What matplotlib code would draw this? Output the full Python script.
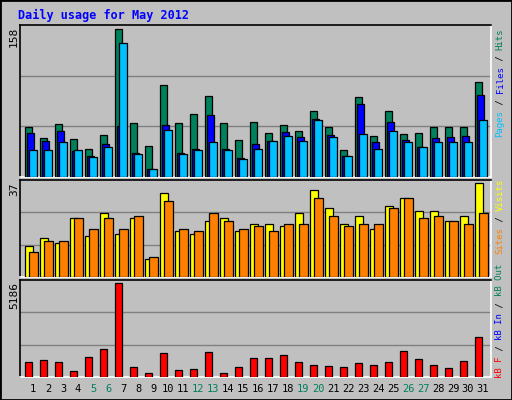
import matplotlib
matplotlib.use("Agg")
import matplotlib.pyplot as plt
from matplotlib.patches import Rectangle
import numpy as np

days = list(range(1, 32))
hits = [54,42,57,41,30,45,158,58,33,99,58,67,87,58,40,59,47,56,49,71,54,29,86,44,71,46,47,53,54,54,102]
files = [47,39,49,28,23,35,55,26,9,56,26,30,66,30,20,35,39,48,43,62,45,23,78,37,59,40,32,42,43,44,88]
pages = [29,29,37,29,21,32,143,25,9,50,25,29,38,29,19,30,39,44,39,61,43,23,46,30,49,37,32,37,37,37,61]
visits = [12,15.3,13.3,23.3,16,25,17,23,7,33,18,17,22,23,18,21,21,20,25,34,27,21,24,19,28,31,26,26,22,24,37]
sites = [10,14,14,23,19,23,19,24,8,30,19,18,25,22,19,20,18,21,21,31,24,20,21,21,27,31,23,24,22,21,25]
kbytes = [814,927,814,303,1098,1552,5186,530,246,1325,360,416,1382,246,530,1041,1041,1211,814,644,587,530,757,644,814,1438,984,644,473,870,2177]
weekend = [5,6,12,13,19,20,26,27]

BG = "#C0C0C0"
C_HITS, C_FILES, C_PAGES = "#00805C", "#0000FF", "#00C0FF"
C_VIS, C_SITES, C_KB = "#FFFF00", "#FF8000", "#FF0000"
MONO = "DejaVu Sans Mono"

W, H = 512, 400
fig = plt.figure(figsize=(5.12, 4.0), dpi=100)
fig.patch.set_facecolor(BG)
fig.add_artist(Rectangle((0, 0), 1, 1, transform=fig.transFigure, fill=False, ec="black", lw=2))

def mkax(x0, y0, x1, y1):
    ax = fig.add_axes([x0 / W, 1 - y1 / H, (x1 - x0) / W, (y1 - y0) / H])
    ax.set_facecolor(BG)
    ax.spines["top"].set_color("black"); ax.spines["left"].set_color("black")
    ax.spines["right"].set_color("white"); ax.spines["bottom"].set_color("white")
    for s in ax.spines.values():
        s.set_linewidth(1.2)
    ax.set_xlim(0.273, 31.67)
    ax.set_xticks([]); ax.set_yticks([])
    return ax

d = np.array(days, dtype=float)
kw = dict(align="edge", edgecolor="black", linewidth=0.9, zorder=3)

def setup_y(ax, top, label, y0):
    lim = top * 1.03
    ax.set_ylim(0, lim)
    for g in (lim / 3, 2 * lim / 3):
        ax.axhline(g, color="#808080", lw=1.0, zorder=1)
    fig.text(14 / W, 1 - y0 / H, label, rotation=90, ha="center", va="top",
             fontsize=8, family=MONO, color="black")

ax1 = mkax(20, 25, 491, 177)
ax1.bar(d - 0.373, hits, 0.47, color=C_HITS, **kw)
ax1.bar(d - 0.24, files, 0.47, color=C_FILES, **kw)
ax1.bar(d - 0.107, pages, 0.49, color=C_PAGES, **kw)
setup_y(ax1, max(hits), str(max(hits)), 27)

ax2 = mkax(20, 180, 491, 277)
ax2.bar(d - 0.373, visits, 0.53, color=C_VIS, **kw)
ax2.bar(d - 0.107, sites, 0.55, color=C_SITES, **kw)
setup_y(ax2, max(visits), str(int(max(visits))), 182)

ax3 = mkax(20, 280, 491, 377)
ax3.bar(d - 0.373, kbytes, 0.47, color=C_KB, **kw)
setup_y(ax3, max(kbytes), str(max(kbytes)), 282)

for dd in days:
    xpix = 20 + (dd + 0.14 - 0.273) / (31.67 - 0.273) * 471
    fig.text(xpix / W, 1 - 389 / H, str(dd), ha="center", va="center", fontsize=7.5,
             family=MONO, color=C_HITS if dd in weekend else "black")

fig.text(18 / W, 1 - 15 / H, "Daily usage for May 2012", ha="left", va="center",
         fontsize=8.5, family=MONO, fontweight="bold", color="#0000FF")

FS = 6.5
CH = 0.602 * FS * 100 / 72

def side(parts, ytop=None, ybot=None):
    n = sum(len(t) for t, _ in parts)
    y = ybot if ybot is not None else ytop + n * CH
    for t, c in parts:
        fig.text(500 / W, 1 - y / H, t, rotation=90, ha="center", va="bottom",
                 fontsize=FS, family=MONO, color=c)
        y -= len(t) * CH

side([("Pages", C_PAGES), (" / ", "black"), ("Files", C_FILES), (" / ", "black"), ("Hits", C_HITS)], ytop=28)
side([("Sites", C_SITES), (" / ", "black"), ("Visits", C_VIS)], ytop=178)
side([("kB F", C_KB), (" / ", "black"), ("kB In", C_FILES), (" / ", "black"), ("kB Out", C_HITS)], ybot=378)

fig.savefig("out.png", dpi=100, facecolor=BG)
